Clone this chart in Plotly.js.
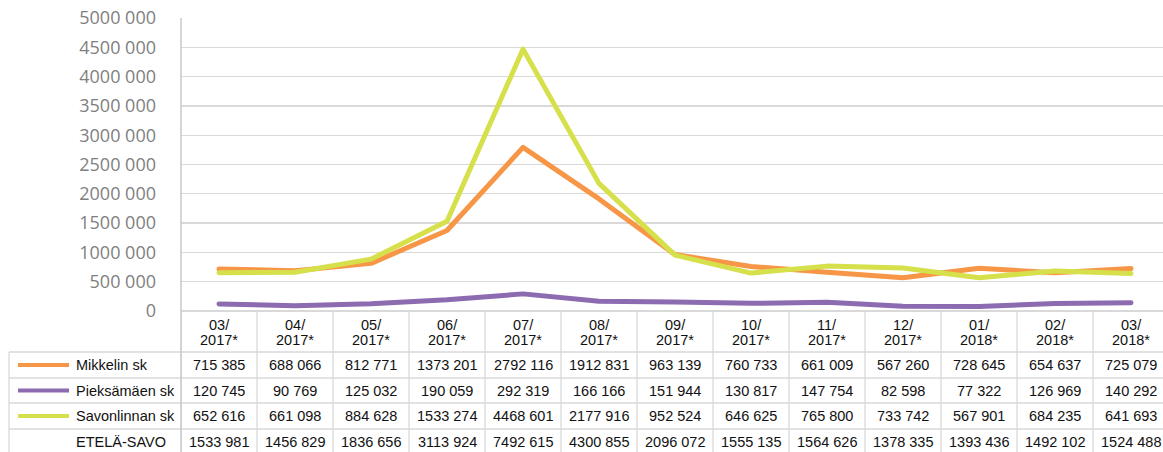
<!DOCTYPE html>
<html><head><meta charset="utf-8">
<script src="https://cdn.plot.ly/plotly-3.0.1.min.js"></script>
<style>html,body{margin:0;padding:0;overflow:hidden;background:#fff}#chart{width:1163px;height:452px}
#chart .scatterlayer path.js-line{stroke-linecap:round;stroke-linejoin:round}</style>
</head><body><div id="chart"></div>
<script>
const categories = ['03/2017*','04/2017*','05/2017*','06/2017*','07/2017*','08/2017*','09/2017*','10/2017*','11/2017*','12/2017*','01/2018*','02/2018*','03/2018*'];
const seriesNames = ['Mikkelin sk','Pieksämäen sk','Savonlinnan sk'];
const mikkeli = [715385, 688066, 812771, 1373201, 2792116, 1912831, 963139, 760733, 661009, 567260, 728645, 654637, 725079];
const pieksamaki = [120745, 90769, 125032, 190059, 292319, 166166, 151944, 130817, 147754, 82598, 77322, 126969, 140292];
const savonlinna = [652616, 661098, 884628, 1533274, 4468601, 2177916, 952524, 646625, 765800, 733742, 567901, 684235, 641693];
const totalName = 'ETELÄ-SAVO';
const etelaSavo = [1533981, 1456829, 1836656, 3113924, 7492615, 4300855, 2096072, 1555135, 1564626, 1378335, 1393436, 1492102, 1524488];
const yTickVals = [0, 500000, 1000000, 1500000, 2000000, 2500000, 3000000, 3500000, 4000000, 4500000, 5000000];
const yTickText = ['0','500 000','1000 000','1500 000','2000 000','2500 000','3000 000','3500 000','4000 000','4500 000','5000 000'];
const colors = ['#f79646','#8c6bb1','#d5e04a'];

function fmt(n){ if(n<1000) return String(n); const r=n%1000; return Math.floor(n/1000)+' '+String(r).padStart(3,'0'); }

const W=1163, H=452, L=181, T=18, B=311;
const plotW=W-L, plotH=B-T, colW=76;
const px2x = p => (p-L)/plotW;      // paper x
const py2y = p => (B-p)/plotH;      // paper y
const xs = categories.map((c,i)=>i);
const seriesVals=[mikkeli,pieksamaki,savonlinna];

const traces = seriesVals.map((v,k)=>({
  x: xs, y: v, type:'scatter', mode:'lines', name: seriesNames[k],
  line:{color:colors[k], width:5}, hoverinfo:'skip'
}));

const shapes=[], ann=[];
const gridC='#d9d9d9';
const rowLines=[352,378,403,429];
rowLines.forEach(p=>shapes.push({type:'line',xref:'paper',yref:'paper',x0:px2x(9),x1:1,y0:py2y(p),y1:py2y(p),line:{color:gridC,width:1.3}}));
for(let i=0;i<=categories.length;i++){
  shapes.push({type:'line',xref:'x',yref:'paper',x0:i-0.5,x1:i-0.5,y0:py2y(B),y1:py2y(460),line:{color:gridC,width:1.3}});
}
shapes.push({type:'line',xref:'paper',yref:'paper',x0:0,x1:0,y0:1,y1:py2y(460),line:{color:'#c8c8c8',width:1.5}});
shapes.push({type:'line',xref:'paper',yref:'paper',x0:px2x(9),x1:px2x(9),y0:py2y(352),y1:py2y(460),line:{color:gridC,width:1.3}});

const tf={family:'Liberation Sans, Arial, sans-serif',size:14.5,color:'#111'};
categories.forEach((c,i)=>{
  const parts=c.split('/');
  ann.push({xref:'x',yref:'paper',x:i,y:py2y(325),text:parts[0]+'/',showarrow:false,font:tf,xanchor:'center',yanchor:'middle'});
  ann.push({xref:'x',yref:'paper',x:i,y:py2y(340),text:parts[1],showarrow:false,font:tf,xanchor:'center',yanchor:'middle'});
});
const rowCenters=[365,390.5,416,442];
const rowNames=[...seriesNames,totalName];
const rowVals=[...seriesVals,etelaSavo];
rowVals.forEach((vals,r)=>{
  vals.forEach((v,i)=>ann.push({xref:'x',yref:'paper',x:i,y:py2y(rowCenters[r]),text:fmt(v),showarrow:false,font:tf,xanchor:'center',yanchor:'middle'}));
  ann.push({xref:'paper',yref:'paper',x:px2x(74),y:py2y(rowCenters[r]),text:rowNames[r],showarrow:false,font:tf,xanchor:'left',yanchor:'middle'});
  if(r<3) shapes.push({type:'line',xref:'paper',yref:'paper',x0:px2x(18),x1:px2x(69),y0:py2y(rowCenters[r]),y1:py2y(rowCenters[r]),line:{color:colors[r],width:4}});
});

const layout={
  width:W,height:H,margin:{l:L,r:0,t:T,b:H-B,pad:0},
  paper_bgcolor:'#fff',plot_bgcolor:'#fff',showlegend:false,
  xaxis:{range:[-0.5,-0.5+plotW/colW],showgrid:false,zeroline:false,showticklabels:false,ticks:'',showline:false,fixedrange:true},
  yaxis:{range:[0,5000000],tickvals:yTickVals,ticktext:yTickText,showgrid:true,gridcolor:gridC,gridwidth:1.3,zeroline:true,zerolinecolor:gridC,zerolinewidth:1.3,
    showline:false,ticks:'',ticklabelstandoff:24,tickfont:{family:'Open Sans, sans-serif',size:18,color:'#7f7f7f'},fixedrange:true},
  shapes:shapes,annotations:ann
};
Plotly.newPlot('chart',traces,layout,{displayModeBar:false,staticPlot:true});
</script></body></html>
